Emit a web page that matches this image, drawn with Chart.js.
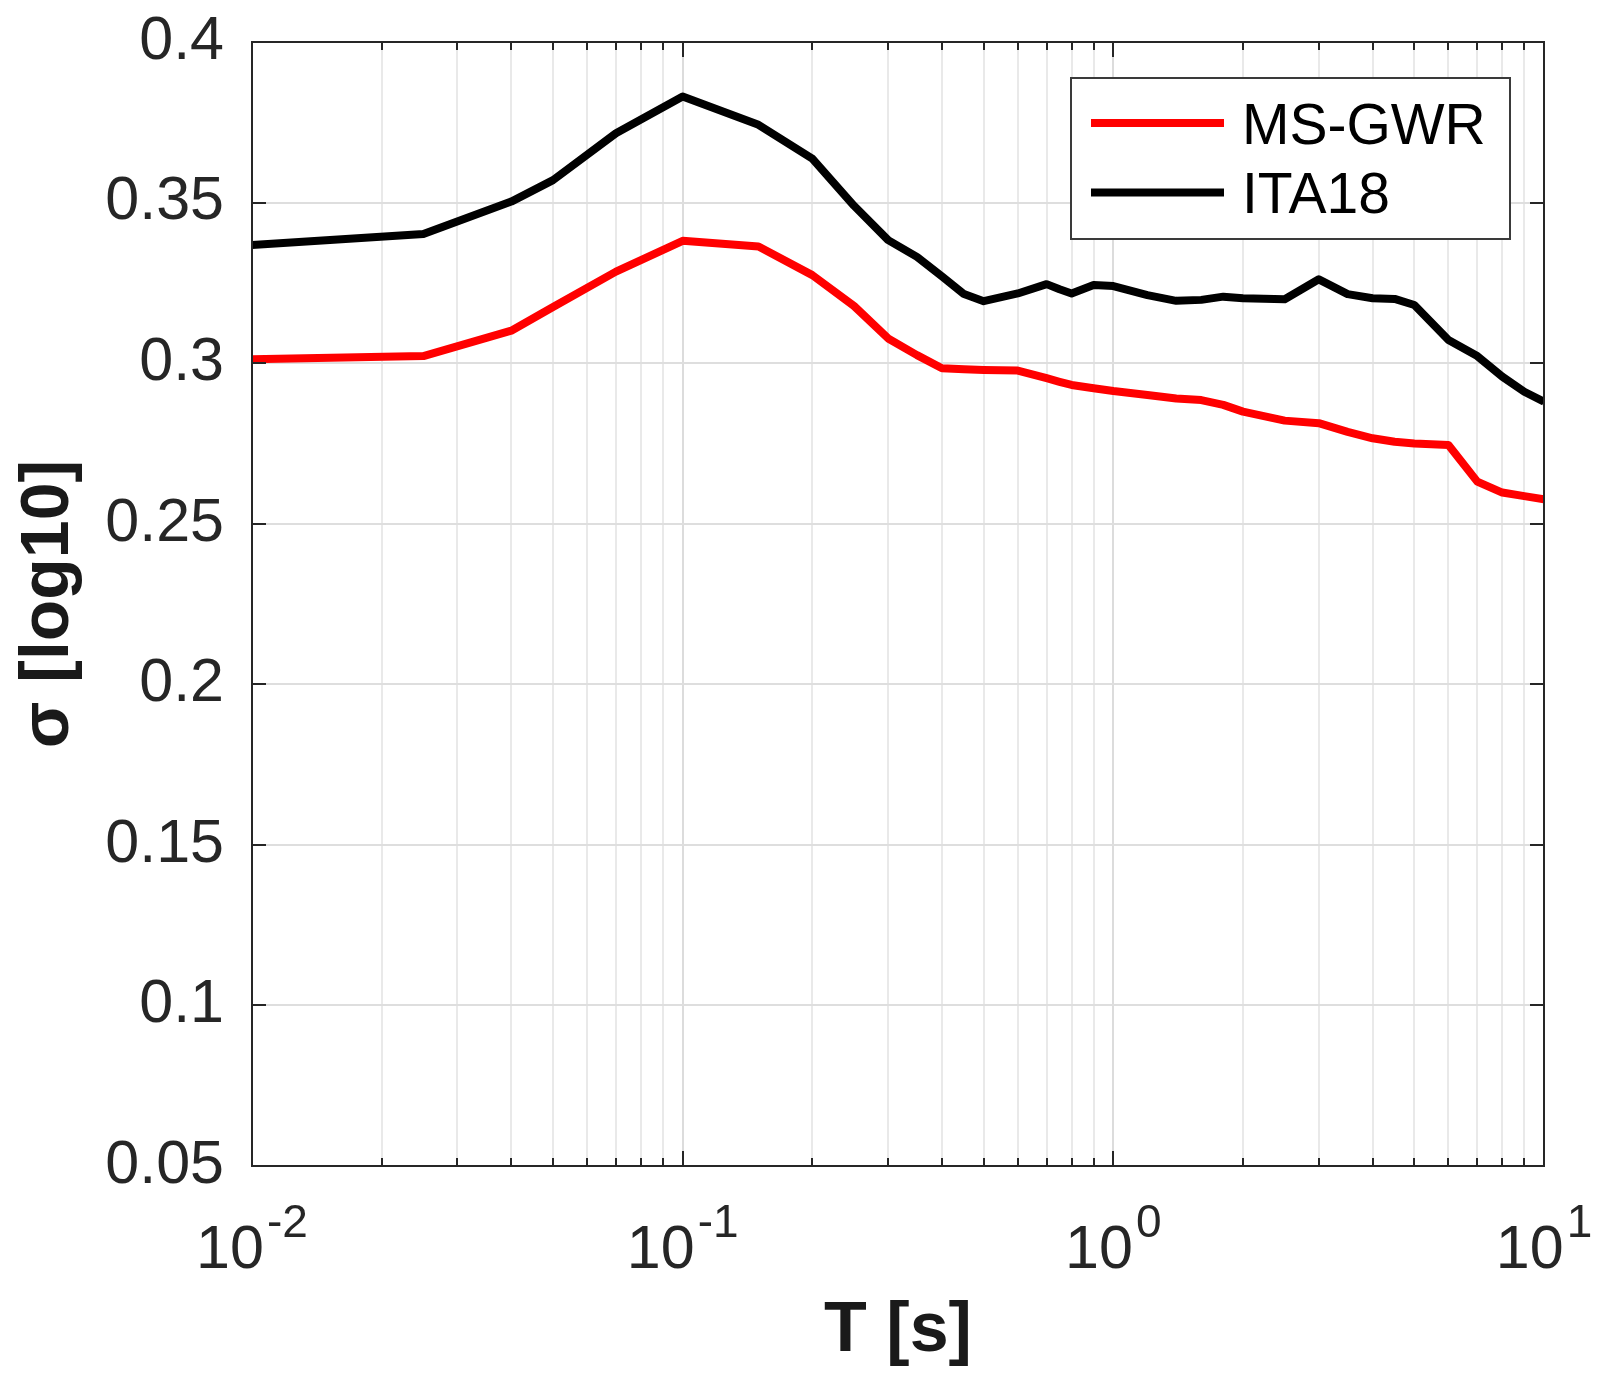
<!DOCTYPE html>
<html>
<head>
<meta charset="utf-8">
<script src="https://cdn.jsdelivr.net/npm/chart.js@4.4.1/dist/chart.umd.min.js"></script>
<style>
  html, body { margin: 0; padding: 0; background: #ffffff; }
  #wrap { width: 1606px; height: 1380px; }
</style>
</head>
<body>
<div id="wrap"><canvas id="c" width="1606" height="1380"></canvas></div>
<script>
// ---- data ----
const periods = [0.01, 0.025, 0.04, 0.05, 0.07, 0.1, 0.15, 0.2, 0.25, 0.3, 0.35, 0.4, 0.45, 0.5, 0.6, 0.7, 0.75, 0.8, 0.9, 1,
                 1.2, 1.4, 1.6, 1.8, 2, 2.5, 3, 3.5, 4, 4.5, 5, 6, 7, 8, 9, 10];
const msgwr = [0.3012, 0.3022, 0.3101, 0.3175, 0.3285, 0.3381, 0.3363, 0.3274, 0.3178, 0.3077, 0.3025, 0.2984, 0.2981, 0.2979, 0.2977, 0.2953, 0.2942, 0.2932, 0.2922, 0.2913,
               0.2901, 0.2890, 0.2885, 0.2870, 0.2849, 0.2821, 0.2813, 0.2786, 0.2766, 0.2755, 0.2750, 0.2745, 0.2631, 0.2597, 0.2586, 0.2576];
const ita18 = [0.3368, 0.3402, 0.3503, 0.3570, 0.3716, 0.3830, 0.3742, 0.3637, 0.3490, 0.3383, 0.3331, 0.3270, 0.3215, 0.3193, 0.3217, 0.3246, 0.3230, 0.3217, 0.3243, 0.3240,
               0.3212, 0.3194, 0.3197, 0.3207, 0.3202, 0.3199, 0.3261, 0.3215, 0.3202, 0.3200, 0.3181, 0.3072, 0.3022, 0.2958, 0.2911, 0.2880];
const seriesNames = ['MS-GWR', 'ITA18'];
const yTicks = [0.05, 0.1, 0.15, 0.2, 0.25, 0.3, 0.35, 0.4];
const yTickLabels = ['0.05', '0.1', '0.15', '0.2', '0.25', '0.3', '0.35', '0.4'];
const xMajorTicks = [0.01, 0.1, 1, 10];
const xTickBase = '10';
const xTickExponents = ['-2', '-1', '0', '1'];
const xTitle = 'T [s]';
const yTitle = 'σ [log10]';

// ---- styles ----
const FONT = "'Liberation Sans', Arial, Helvetica, sans-serif";
const axisColor = '#262626';
const colors = ['#ff0000', '#000000'];

const xGridValues = [];
for (let d = 0; d < xMajorTicks.length - 1; d++) {
  for (let m = 1; m <= 9; m++) xGridValues.push(+(xMajorTicks[d] * m).toPrecision(6));
}
xGridValues.push(xMajorTicks[xMajorTicks.length - 1]);

const framePlugin = {
  id: 'frame',
  afterDraw(chart) {
    const { ctx, chartArea: a, scales } = chart;
    const x = scales.x, y = scales.y;
    ctx.save();
    // inner ticks
    ctx.strokeStyle = axisColor;
    ctx.lineWidth = 2;
    ctx.beginPath();
    yTicks.forEach(v => {
      const py = Math.round(y.getPixelForValue(v));
      ctx.moveTo(a.left, py); ctx.lineTo(a.left + 14, py);
      ctx.moveTo(a.right, py); ctx.lineTo(a.right - 14, py);
    });
    xGridValues.forEach(v => {
      const px = Math.round(x.getPixelForValue(v));
      const len = xMajorTicks.includes(v) ? 15 : 8;
      ctx.moveTo(px, a.bottom); ctx.lineTo(px, a.bottom - len);
      ctx.moveTo(px, a.top); ctx.lineTo(px, a.top + len);
    });
    ctx.stroke();
    // box
    ctx.strokeRect(a.left, a.top, a.right - a.left, a.bottom - a.top);

    // x tick labels with superscripts
    ctx.fillStyle = axisColor;
    ctx.textBaseline = 'alphabetic';
    ctx.textAlign = 'left';
    const baseFont = '61px ' + FONT, expFont = '46px ' + FONT;
    xMajorTicks.forEach((v, i) => {
      const px = x.getPixelForValue(v);
      ctx.font = baseFont;
      const w1 = ctx.measureText(xTickBase).width;
      ctx.font = expFont;
      const w2 = ctx.measureText(xTickExponents[i]).width;
      const total = w1 + 3 + w2;
      const sx = px - total / 2;
      ctx.font = baseFont;
      ctx.fillText(xTickBase, sx, a.bottom + 102);
      ctx.font = expFont;
      ctx.fillText(xTickExponents[i], sx + w1 + 3, a.bottom + 71);
    });

    // legend
    const bx1 = a.right - 34, bx0 = bx1 - 439;
    const by0 = a.top + 36, by1 = by0 + 161;
    ctx.fillStyle = '#ffffff';
    ctx.fillRect(bx0, by0, bx1 - bx0, by1 - by0);
    ctx.strokeStyle = '#3a3a3a';
    ctx.lineWidth = 2;
    ctx.strokeRect(bx0, by0, bx1 - bx0, by1 - by0);
    chart.data.datasets.forEach((ds, i) => {
      const ly = by0 + 45 + i * 69.5;
      ctx.strokeStyle = ds.borderColor;
      ctx.lineWidth = 8;
      ctx.beginPath();
      ctx.moveTo(bx0 + 20, ly); ctx.lineTo(bx0 + 153, ly);
      ctx.stroke();
      ctx.fillStyle = '#000000';
      ctx.font = '57px ' + FONT;
      ctx.textBaseline = 'alphabetic';
      ctx.fillText(ds.label, bx0 + 171, ly + 20.5);
    });
    ctx.restore();
  }
};

new Chart(document.getElementById('c'), {
  type: 'line',
  data: {
    datasets: [
      { label: seriesNames[0], data: periods.map((p, i) => ({ x: p, y: msgwr[i] })),
        borderColor: colors[0], borderWidth: 8, pointRadius: 0, fill: false, tension: 0,
        borderJoinStyle: 'round' },
      { label: seriesNames[1], data: periods.map((p, i) => ({ x: p, y: ita18[i] })),
        borderColor: colors[1], borderWidth: 8, pointRadius: 0, fill: false, tension: 0,
        borderJoinStyle: 'round' }
    ]
  },
  options: {
    responsive: false,
    animation: false,
    devicePixelRatio: 1,
    events: [],
    layout: { padding: { top: 42, right: 62, left: 0, bottom: 0 } },
    plugins: { legend: { display: false }, tooltip: { enabled: false } },
    scales: {
      x: {
        type: 'logarithmic', position: 'bottom', min: 0.01, max: 10,
        afterBuildTicks: s => { s.ticks = xGridValues.map(v => ({ value: v, major: xMajorTicks.includes(v) })); },
        afterFit: s => { s.height = 214; s.paddingLeft = 0; s.paddingRight = 0; },
        ticks: { autoSkip: false, maxRotation: 0, callback: () => '', font: { size: 10 } },
        grid: { drawTicks: false, lineWidth: 2,
                color: c => (c.tick && xMajorTicks.includes(c.tick.value)) ? '#dcdcdc' : '#e9e9e9' },
        border: { display: false },
        title: { display: true, text: xTitle, color: '#1a1a1a',
                 font: { family: FONT, size: 70, weight: 'bold' }, padding: { top: 0, bottom: 6 } }
      },
      y: {
        type: 'linear', position: 'left', min: 0.05, max: 0.4,
        afterBuildTicks: s => { s.ticks = yTicks.map(v => ({ value: v })); },
        afterFit: s => { s.width = 252; s.paddingTop = 0; s.paddingBottom = 0; },
        ticks: { color: axisColor, padding: 28, font: { family: FONT, size: 61 },
                 callback: v => { const i = yTicks.findIndex(t => Math.abs(t - v) < 1e-9); return i >= 0 ? yTickLabels[i] : ''; } },
        grid: { drawTicks: false, lineWidth: 2, color: '#dedede' },
        border: { display: false },
        title: { display: true, text: yTitle, color: '#1a1a1a',
                 font: { family: FONT, size: 68, weight: 'bold' }, padding: { top: 8, bottom: 0 } }
      }
    }
  },
  plugins: [framePlugin]
});
</script>
</body>
</html>
